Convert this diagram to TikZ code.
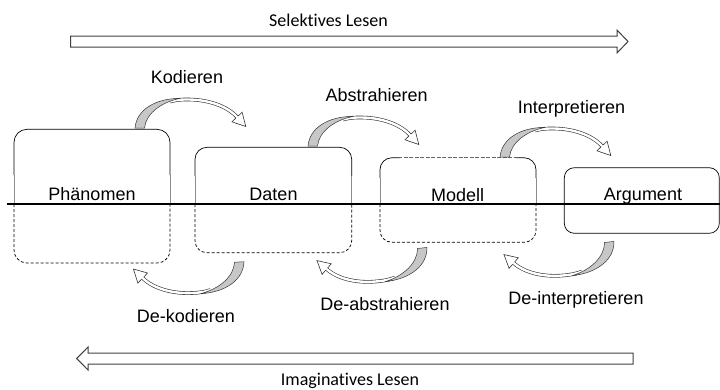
\documentclass[tikz,border=0pt]{standalone}
\usepackage{fontspec}
\setmainfont{Liberation Sans}
\newfontfamily\calibfont[Ligatures=NoCommon]{Carlito}
\newcommand\drawhalfbox[6]{% L R T B S r
  \draw[boxline, rounded corners=#6] (#1,#5) |- (#2,#3) -- (#2,#5);
  \draw[fadeline] (#1,#5) -- (#1,204) (#2,#5) -- (#2,204);
  \draw[boxline, dashpart, rounded corners=#6] (#1,204) |- (#2,#4) -- (#2,204);
}
\begin{document}
\begin{tikzpicture}[x=1pt,y=-1pt,
  lbl/.style={font=\fontsize{18}{21}\selectfont, inner sep=0pt, anchor=base},
  clbl/.style={font=\calibfont\fontsize{18}{21}\selectfont, inner sep=0pt, anchor=base},
  boxline/.style={line width=0.7pt, black},
  fadeline/.style={line width=0.5pt, black!45},
  dashpart/.style={dash pattern=on 3pt off 2pt},
  bigarrow/.style={line width=1pt, draw=black!75, fill=white, line join=miter},
  arrline/.style={draw=black!80, line width=0.6pt},
  curvarr/.pic={
    \draw[arrline, double=white, double distance=2.4pt]
      (30,-26.5) .. controls (36,-28.2) and (42,-28.6) .. (48,-28.5)
      .. controls (66,-28.5) and (86,-23) .. (97,-11);
    \filldraw[fill=black!22, arrline, line width=0.5pt]
      (-5,0) .. controls (-3.5,-18) and (15,-29.6) .. (40,-29.6)
      .. controls (22,-26) and (6,-15) .. (4.5,0) -- cycle;
    \filldraw[fill=white, arrline, line join=miter]
      (98.1,-12.0) -- (102.1,-15.8) -- (105.8,-1.5) -- (91.9,-6.2) -- (95.9,-10.0);
  }
]
\useasboundingbox (0,0) rectangle (720,389);

% big arrows
\draw[bigarrow] (70.7,36) -- (617,36) -- (617,30) -- (628,41.5) -- (617,53)
  -- (617,47) -- (70.7,47) -- cycle;
\draw[bigarrow] (633,353) -- (88,353) -- (88,347) -- (76.7,358.5) -- (88,370)
  -- (88,364) -- (633,364) -- cycle;
\node[clbl] (sel) at (328.5,26.7) {Selektives Lesen};
\node[clbl] (ima) at (350,385) {Imaginatives Lesen};

% boxes
\drawhalfbox{14}{170}{129.3}{263}{175}{13pt}
\drawhalfbox{195}{351.7}{147.3}{252.7}{176}{12pt}
% Modell: dashed top edge
\draw[boxline, rounded corners=12pt] (380,178) |- (400,157.7);
\draw[boxline, rounded corners=12pt] (516,157.7) -| (536,178);
\draw[black!60, line width=0.6pt, dash pattern=on 4pt off 1.5pt] (398,157.7) -- (518,157.7);
\draw[fadeline] (380,178) -- (380,204) (536,178) -- (536,204);
\draw[boxline, dashpart, rounded corners=12pt] (380,204) |- (536,242.3) -- (536,204);
% Argument
\draw[boxline, rounded corners=10pt] (564.3,167.7) rectangle (719.3,233.3);

% named box nodes (areas)
\node[inner sep=0pt, minimum width=156pt, minimum height=133.7pt] (phen) at (92,196.15) {};
\node[inner sep=0pt, minimum width=156.7pt, minimum height=105.4pt] (dat) at (273.35,200) {};
\node[inner sep=0pt, minimum width=156pt, minimum height=84.6pt] (mod) at (458,200) {};
\node[inner sep=0pt, minimum width=155pt, minimum height=65.6pt] (arg) at (641.8,200.5) {};

% base line
\draw[line width=2pt] (7,204.3) -- (720,204.3);

% box labels
\node[lbl] (tphen) at (92,200) {Phänomen};
\node[lbl] (tdat) at (273.5,200.7) {Daten};
\node[lbl] (tmod) at (457.6,201) {Modell};
\node[lbl] (targ) at (643,200) {Argument};

% curved arrows
\coordinate (ks) at (140,128);
\coordinate (as) at (313,146);
\coordinate (is) at (505,157);
\coordinate (dks) at (239,262);
\coordinate (das) at (422,248);
\coordinate (dis) at (609,242);
\pic (kod) at (ks) {curvarr};
\pic (abs) at (as) {curvarr};
\pic (int) at (is) {curvarr};
\pic[rotate=183] (dkod) at (dks) {curvarr};
\pic[rotate=186] (dabs) at (das) {curvarr};
\pic[rotate=186] (dint) at (dis) {curvarr};

% arrow labels
\node[lbl] (lkod) at (187,83.3) {Kodieren};
\node[lbl] (labs) at (376.6,101.7) {Abstrahieren};
\node[lbl] (lint) at (571.5,113) {Interpretieren};
\node[lbl] (ldkod) at (186,322.7) {De-kodieren};
\node[lbl] (ldabs) at (385,310) {De-abstrahieren};
\node[lbl] (ldint) at (576,304) {De-interpretieren};
\end{tikzpicture}
\end{document}
